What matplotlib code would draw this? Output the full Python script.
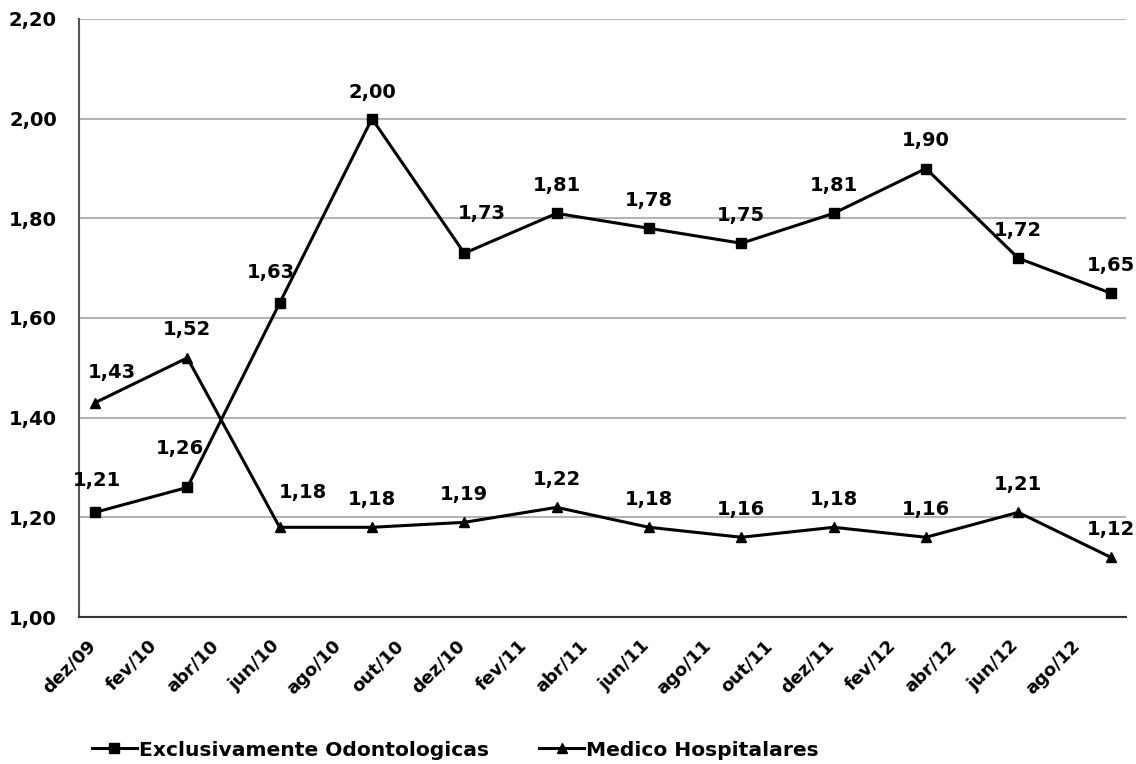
import matplotlib
matplotlib.use("Agg")
import matplotlib.pyplot as plt
import matplotlib.transforms as mtransforms
from matplotlib.ticker import FixedLocator, FuncFormatter

plt.rcParams['font.family'] = ['DejaVu Sans']
plt.rcParams['font.weight'] = 'bold'

# quarterly points, counted in months from dez/09
months = [0, 3, 6, 9, 12, 15, 18, 21, 24, 27, 30, 33]
odonto = [1.21, 1.26, 1.63, 2.00, 1.73, 1.81, 1.78, 1.75, 1.81, 1.90, 1.72, 1.65]
medico = [1.43, 1.52, 1.18, 1.18, 1.19, 1.22, 1.18, 1.16, 1.18, 1.16, 1.21, 1.12]

tick_months = list(range(0, 33, 2))
tick_labels = ['dez/09', 'fev/10', 'abr/10', 'jun/10', 'ago/10', 'out/10',
               'dez/10', 'fev/11', 'abr/11', 'jun/11', 'ago/11', 'out/11',
               'dez/11', 'fev/12', 'abr/12', 'jun/12', 'ago/12']
y_ticks = [1.00, 1.20, 1.40, 1.60, 1.80, 2.00, 2.20]

fig = plt.figure(figsize=(11.36, 7.64), dpi=100)
ax = fig.add_axes([79/1136, 1 - 617/764, (1126 - 79)/1136, (617 - 19)/764])

ax.plot(months, odonto, color='black', lw=2.2, marker='s', ms=7.5,
        label='Exclusivamente Odontologicas', zorder=3)
ax.plot(months, medico, color='black', lw=2.2, marker='^', ms=7.5,
        label='Medico Hospitalares', zorder=3)

# value labels, nudged (pixels) where the two lines crowd each other
default_off = (0, 28)
odonto_off = {0: (2, 32), 1: (-7, 39), 2: (-9, 31), 3: (0, 26), 4: (17, 40)}
medico_off = {0: (17, 30), 2: (23, 35)}

def label_series(xs, ys, nudges):
    for i, (x, y) in enumerate(zip(xs, ys)):
        dx, dy = nudges.get(i, default_off)
        ax.annotate(f'{y:.2f}'.replace('.', ','), (x, y), xytext=(dx, dy),
                    textcoords='offset pixels', ha='center', va='center',
                    fontsize=14, fontweight='bold', color='black')

label_series(months, odonto, odonto_off)
label_series(months, medico, medico_off)

ax.set_xlim(-0.52, 33.5)
ax.set_ylim(1.0, 2.2)
ax.yaxis.set_major_locator(FixedLocator(y_ticks))
ax.yaxis.set_major_formatter(FuncFormatter(lambda v, p: f'{v:.2f}'.replace('.', ',')))
ax.set_xticks(tick_months)
ax.set_xticklabels(tick_labels, rotation=45, ha='right', va='top',
                   fontsize=13, fontweight='bold')
ax.tick_params(axis='x', length=0, pad=14)
ax.tick_params(axis='y', length=0, pad=16, labelsize=14)
for lbl in ax.get_yticklabels():
    lbl.set_fontweight('bold')

# nudge the slanted month labels a little to the right
shift = mtransforms.ScaledTranslation(4/100, 0, fig.dpi_scale_trans)
for lbl in ax.get_xticklabels():
    lbl.set_transform(lbl.get_transform() + shift)

ax.grid(axis='y', color='#b4b4b4', lw=1.5)
ax.set_axisbelow(True)
ax.spines['top'].set_visible(False)
ax.spines['right'].set_visible(False)
ax.spines['left'].set_color('#555555')
ax.spines['left'].set_linewidth(1.5)
ax.spines['bottom'].set_color('#333333')
ax.spines['bottom'].set_linewidth(1.5)

fig.legend(loc='center left', bbox_to_anchor=(92/1136, 1 - 750/764),
           ncol=2, frameon=False, prop={'weight': 'bold', 'size': 14.6},
           handlelength=2.2, handletextpad=0.1, columnspacing=2.5,
           borderpad=0, borderaxespad=0)

fig.savefig('out.png', dpi=100, facecolor='white')
